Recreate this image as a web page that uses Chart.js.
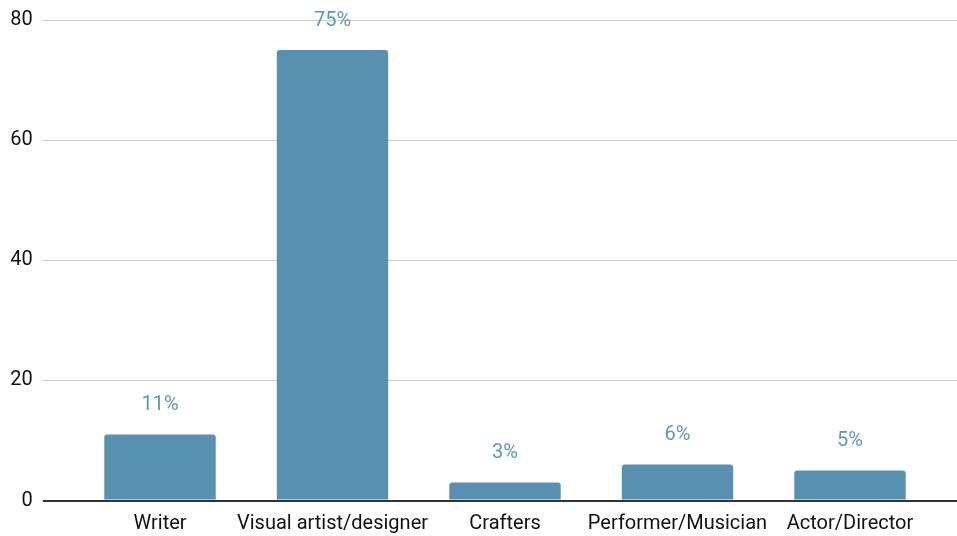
<!DOCTYPE html>
<html>
<head>
<meta charset="utf-8">
<script src="https://cdn.jsdelivr.net/npm/chart.js@4"></script>
<style>
  html, body { margin: 0; padding: 0; background: #fff; }
  #wrap { width: 957px; height: 536px; position: relative; }
</style>
</head>
<body>
<div id="wrap"><canvas id="chart"></canvas></div>
<script>
// chart data
const categories = ['Writer', 'Visual artist/designer', 'Crafters', 'Performer/Musician', 'Actor/Director'];
const shares = [11, 75, 3, 6, 5];
const yTicks = [0, 20, 40, 60, 80];

const barColor = '#5891af';
const labelColor = '#5e97b8';
const gridColor = ctx => (ctx.tick && ctx.tick.value === 0) ? '#333333' : '#cccccc';
const gridWidth = ctx => (ctx.tick && ctx.tick.value === 0) ? 2 : 1;

// draws the "nn%" labels over the bars
const valueLabels = {
  id: 'valueLabels',
  afterDatasetsDraw(chart) {
    const ctx = chart.ctx;
    const meta = chart.getDatasetMeta(0);
    ctx.save();
    ctx.font = '20px Roboto';
    ctx.fillStyle = labelColor;
    ctx.textAlign = 'center';
    ctx.textBaseline = 'alphabetic';
    meta.data.forEach((bar, i) => {
      ctx.fillText(shares[i] + '%', bar.x, bar.y - 24.5);
    });
    ctx.restore();
  }
};

Chart.defaults.font.family = 'Roboto';
Chart.defaults.font.size = 20;
Chart.defaults.color = '#111111';

new Chart(document.getElementById('chart'), {
  type: 'bar',
  data: {
    labels: categories,
    datasets: [{
      data: shares,
      backgroundColor: barColor,
      borderRadius: 3,
      borderSkipped: 'start',
      categoryPercentage: 1,
      barPercentage: 0.646
    }]
  },
  options: {
    responsive: true,
    maintainAspectRatio: false,
    animation: false,
    layout: { padding: { top: 20, left: 0, right: 0, bottom: 0 } },
    plugins: {
      legend: { display: false },
      tooltip: { enabled: false }
    },
    scales: {
      x: {
        z: 1,
        grid: { display: false, drawTicks: false },
        border: { display: true, color: '#333333', width: 2 },
        ticks: { padding: 11, maxRotation: 0, autoSkip: false },
        afterFit: scale => { scale.height = 35.5; }
      },
      y: {
        min: 0,
        max: 80,
        afterBuildTicks: scale => { scale.ticks = yTicks.map(v => ({ value: v })); },
        grid: { color: gridColor, lineWidth: gridWidth, tickLength: 31 },
        border: { display: false },
        ticks: { padding: 10 },
        afterFit: scale => {
          scale.width = 73.75;
          scale.paddingTop = 0;
          scale.paddingBottom = 0;
        }
      },
      y2: {
        position: 'right',
        min: 0,
        max: 80,
        afterBuildTicks: scale => { scale.ticks = yTicks.map(v => ({ value: v })); },
        grid: { color: gridColor, lineWidth: gridWidth, tickLength: 21, drawOnChartArea: false },
        border: { display: false },
        ticks: { display: false },
        afterFit: scale => {
          scale.width = 20.75;
          scale.paddingTop = 0;
          scale.paddingBottom = 0;
        }
      }
    }
  },
  plugins: [valueLabels]
});
</script>
</body>
</html>
